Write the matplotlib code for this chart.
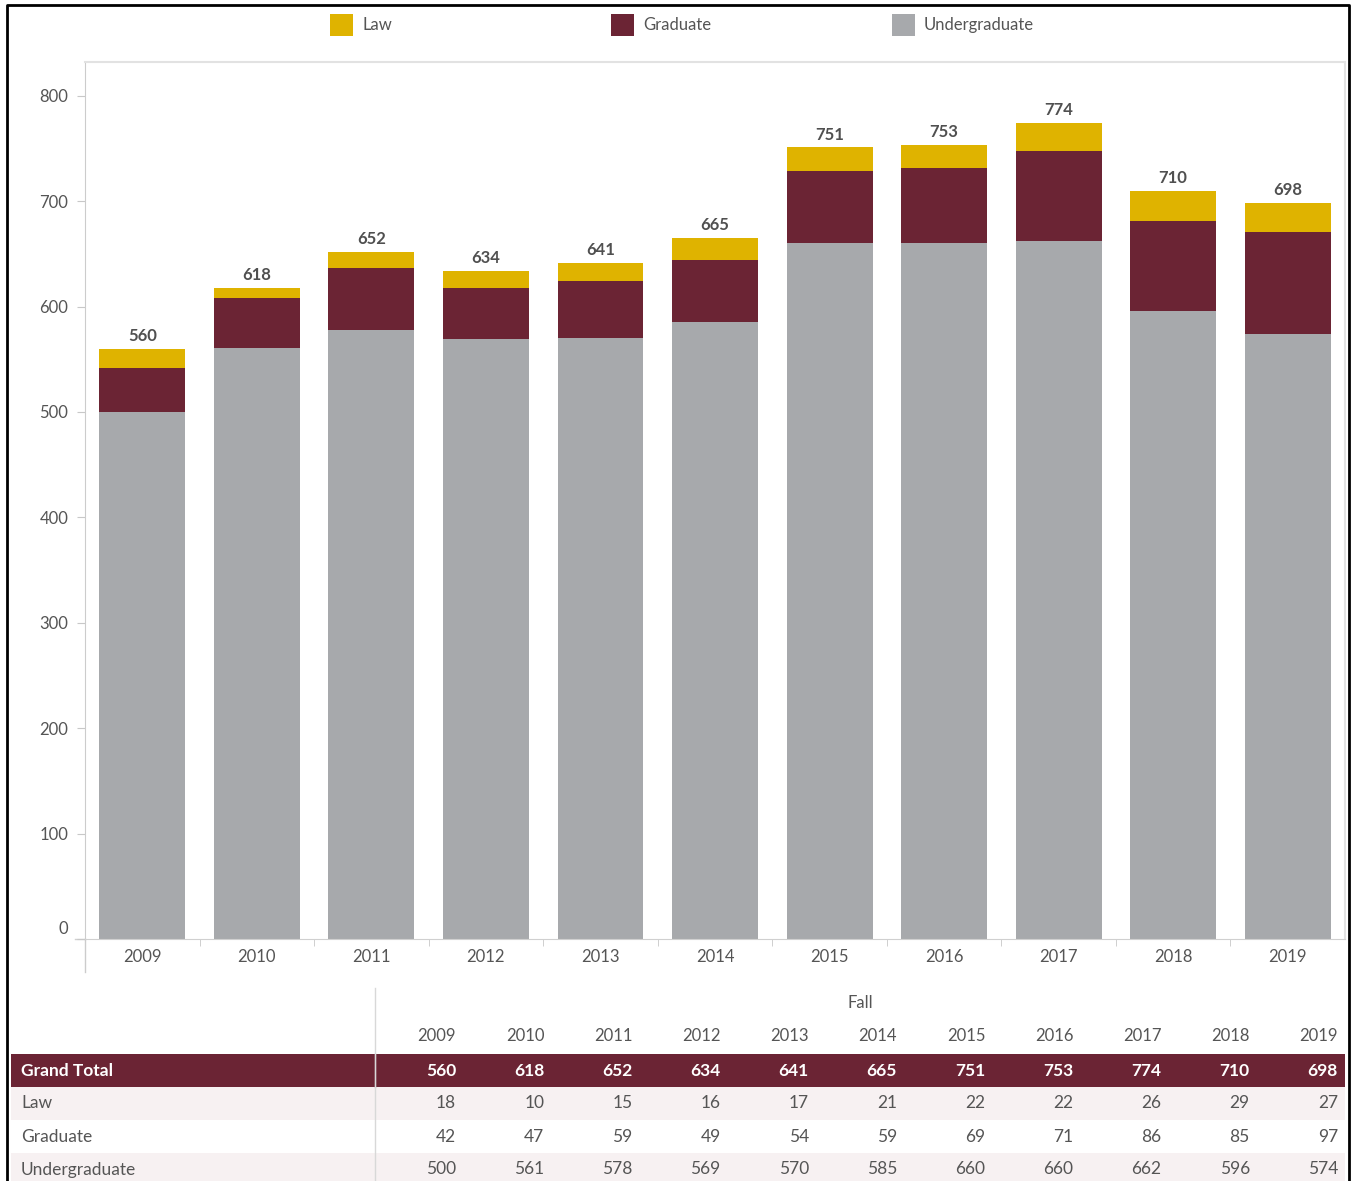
import matplotlib
matplotlib.use("Agg")
import matplotlib.pyplot as plt
from matplotlib.patches import Rectangle
from matplotlib.lines import Line2D
from matplotlib.transforms import ScaledTranslation
import numpy as np

plt.rcParams['font.family'] = ['Lato', 'DejaVu Sans']

years = ['2009', '2010', '2011', '2012', '2013', '2014', '2015', '2016', '2017', '2018', '2019']
law = [18, 10, 15, 16, 17, 21, 22, 22, 26, 29, 27]
graduate = [42, 47, 59, 49, 54, 59, 69, 71, 86, 85, 97]
undergraduate = [500, 561, 578, 569, 570, 585, 660, 660, 662, 596, 574]
grand_total = [560, 618, 652, 634, 641, 665, 751, 753, 774, 710, 698]

series_names = ['Law', 'Graduate', 'Undergraduate']
colors = {'Law': '#dfb300', 'Graduate': '#6b2434', 'Undergraduate': '#a7a9ac'}
text_color = '#555555'

W, H = 1351, 1181
fig = plt.figure(figsize=(W / 100, H / 100), dpi=100)

# Pixel-coordinate overlay for legend, table and frame
ov = fig.add_axes([0, 0, 1, 1], zorder=0)
ov.set_xlim(0, W)
ov.set_ylim(H, 0)
ov.axis('off')

# Chart axes
left_px, right_px, top_px, bottom_px = 85, 1345, 62, 939
ax = fig.add_axes([left_px / W, (H - bottom_px) / H,
                   (right_px - left_px) / W, (bottom_px - top_px) / H], zorder=1)
ax.patch.set_alpha(0)

x = np.arange(len(years))
bw = 0.75
ug = np.array(undergraduate)
gr = np.array(graduate)
lw = np.array(law)
ax.bar(x, ug, bw, color=colors['Undergraduate'], linewidth=0)
ax.bar(x, gr, bw, bottom=ug, color=colors['Graduate'], linewidth=0)
ax.bar(x, lw, bw, bottom=ug + gr, color=colors['Law'], linewidth=0)
for xi, tot in zip(x, grand_total):
    ax.annotate(f'{tot}', (xi, tot), xytext=(0, 3.5), textcoords='offset points',
                ha='center', va='bottom', fontsize=12, color='#505050',
                fontweight='bold')

ax.set_xlim(-0.5, len(years) - 0.5)
ax.set_ylim(0, 832)
ax.set_yticks(np.arange(0, 801, 100))
ax.set_yticklabels([str(v) for v in range(0, 801, 100)])
ax.set_xticks(x)
ax.set_xticklabels(years)
ax.tick_params(axis='x', length=0, pad=7, labelsize=12, labelcolor=text_color)
ax.set_xticks(np.arange(0.5, len(years) - 1, 1), minor=True)
ax.tick_params(axis='x', which='minor', length=5, color='#c8c8c8', direction='out')
ax.tick_params(axis='y', length=6, color='#c8c8c8', pad=6, labelsize=12,
               labelcolor=text_color)
# Lift the zero label clear of the baseline
zero_lbl = ax.get_yticklabels()[0]
zero_lbl.set_transform(zero_lbl.get_transform() +
                       ScaledTranslation(0, 12 / 100, fig.dpi_scale_trans))
for side in ['top', 'right']:
    ax.spines[side].set_color('#e2e2e2')
    ax.spines[side].set_linewidth(1.5)
ax.spines['left'].set_color('#cccccc')
ax.spines['bottom'].set_color('#d0d0d0')

# Axis line extensions
ov.add_line(Line2D([left_px, left_px], [bottom_px, 972], color='#cccccc', lw=1))
ov.add_line(Line2D([75, left_px], [bottom_px, bottom_px], color='#d0d0d0', lw=1))

# Legend
leg_x = [330, 611, 892]
for name, lx in zip(series_names, leg_x):
    ov.add_patch(Rectangle((lx, 14), 23, 22, color=colors[name], lw=0))
    ov.text(lx + 32, 25, name, ha='left', va='center', fontsize=12, color=text_color)

# Table below chart
col_right = [456 + i * 88.2 for i in range(len(years))]
ov.add_line(Line2D([375, 375], [988, H], color='#d8d8d8', lw=1))
ov.text(860, 1003, 'Fall', ha='center', va='center', fontsize=12, color=text_color)
for cx, yr in zip(col_right, years):
    ov.text(cx, 1036, yr, ha='right', va='center', fontsize=12, color=text_color)

rows = [('Grand Total', grand_total), ('Law', law), ('Graduate', graduate),
        ('Undergraduate', undergraduate)]
row_top = [1054, 1087, 1120, 1153]
row_h = 33
bgs = ['#6b2434', '#f7f1f2', '#ffffff', '#f7f1f2']
for (label, vals), ry, bg in zip(rows, row_top, bgs):
    ov.add_patch(Rectangle((11, ry), 1334, row_h, color=bg, lw=0, zorder=0))
    tc = 'white' if label == 'Grand Total' else text_color
    fw = 'bold' if label == 'Grand Total' else 'normal'
    ov.text(21, ry + row_h / 2, label, ha='left', va='center', fontsize=12.5,
            color=tc, fontweight=fw)
    for cx, v in zip(col_right, vals):
        ov.text(cx, ry + row_h / 2, f'{v}', ha='right', va='center', fontsize=12.5,
                color=tc, fontweight=fw)
ov.add_line(Line2D([375, 375], [1054, 1087], color='#b89aa1', lw=1, zorder=1))

# Outer frame
ov.add_line(Line2D([7, 7, 1349, 1349], [H, 5, 5, H], color='black', lw=2))

fig.savefig('out.png', dpi=100)
